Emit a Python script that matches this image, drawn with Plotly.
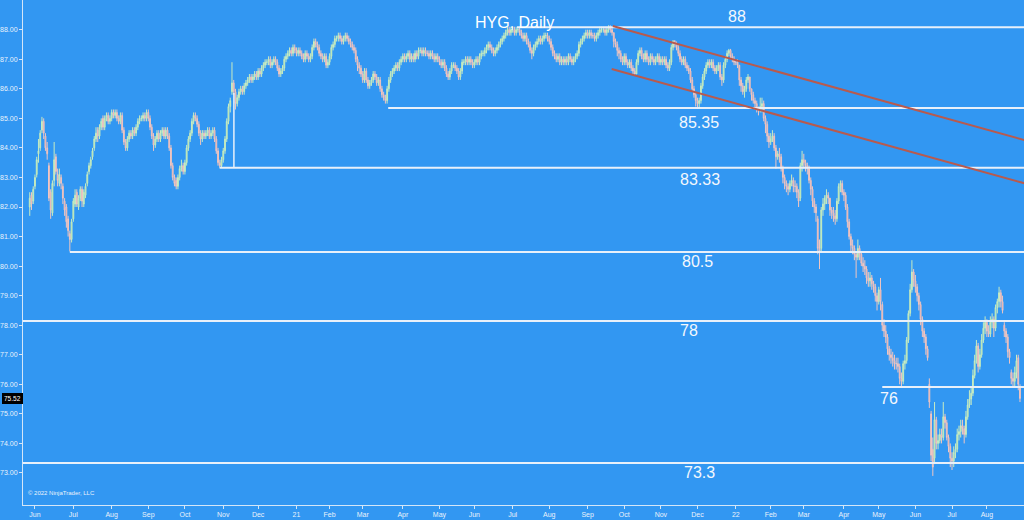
import pandas as pd
import plotly.graph_objects as go

# ---------------- data ----------------
start_date = "2020-05-27"
holidays = ["2020-07-03", "2020-09-07", "2020-11-26", "2020-12-25", "2021-01-01",
            "2021-01-18", "2021-02-15", "2021-04-02", "2021-05-31", "2021-07-05",
            "2021-09-06", "2021-11-25", "2021-12-24", "2022-01-17", "2022-02-21",
            "2022-04-15", "2022-05-30", "2022-06-20", "2022-07-04"]

opens = [
    82.0, 82.4, 82.2, 82.7, 83.1, 83.8, 84.0, 84.6, 84.9, 84.4,
    84.0, 83.4, 82.5, 81.8, 82.9, 83.7, 83.1, 82.8, 83.0, 82.7,
    82.2, 82.0, 81.6, 81.1, 80.9, 81.6, 82.1, 82.5, 82.0, 82.3,
    82.6, 82.1, 82.4, 82.8, 83.2, 83.4, 83.7, 84.0, 84.3, 84.6,
    84.4, 84.7, 85.0, 84.7, 85.0, 85.1, 84.9, 85.0, 85.2, 85.1,
    85.2, 85.0, 84.9, 85.1, 84.6, 84.2, 84.0, 84.3, 84.5, 84.4,
    84.6, 84.5, 84.7, 84.9, 85.0, 85.0, 85.1, 85.0, 85.2, 85.0,
    84.7, 84.4, 84.1, 84.3, 84.5, 84.3, 84.5, 84.6, 84.4, 84.6,
    84.4, 84.0, 83.4, 83.0, 82.9, 82.7, 83.0, 83.3, 83.4, 83.2,
    83.5, 84.0, 84.3, 84.5, 84.9, 85.1, 85.0, 84.8, 84.5, 84.3,
    84.5, 84.4, 84.5, 84.6, 84.4, 84.5, 84.6, 84.3, 83.9, 83.5,
    83.4, 83.6, 83.9, 84.3, 84.9, 85.4, 85.9, 86.2, 85.9, 85.5,
    85.7, 85.9, 86.0, 85.9, 86.1, 86.2, 86.3, 86.4, 86.3, 86.4,
    86.5, 86.4, 86.6, 86.5, 86.7, 86.8, 86.9, 86.9, 87.0, 86.8,
    86.9, 87.0, 86.9, 86.7, 86.5, 86.6, 86.7, 87.0, 87.1, 87.2,
    87.3, 87.2, 87.4, 87.3, 87.2, 87.3, 87.2, 87.1, 87.0, 87.2,
    87.1, 87.0, 87.1, 87.4, 87.6, 87.5, 87.4, 87.2, 87.1, 87.0,
    87.1, 86.8, 86.9, 87.1, 87.4, 87.5, 87.7, 87.7, 87.8, 87.7,
    87.6, 87.7, 87.8, 87.7, 87.6, 87.5, 87.4, 87.3, 87.0, 86.8,
    86.7, 86.5, 86.3, 86.6, 86.3, 86.1, 86.2, 86.3, 86.5, 86.4,
    86.2, 86.3, 86.0, 85.8, 85.7, 85.6, 86.0, 86.3, 86.5, 86.6,
    86.7, 86.8, 86.7, 86.9, 87.0, 87.1, 87.0, 87.1, 87.2, 87.0,
    87.1, 87.0, 87.2, 87.1, 87.3, 87.3, 87.2, 87.3, 87.2, 87.2,
    87.1, 87.2, 87.1, 87.0, 87.1, 87.0, 86.9, 86.8, 86.9, 86.7,
    86.5, 86.4, 86.6, 86.8, 86.8, 86.7, 86.6, 86.4, 86.6, 86.9,
    86.9, 87.0, 86.9, 87.0, 86.9, 86.8, 86.9, 87.0, 86.9, 87.1,
    87.2, 87.2, 87.3, 87.4, 87.5, 87.4, 87.3, 87.2, 87.3, 87.4,
    87.5, 87.6, 87.7, 87.8, 87.9, 88.0, 87.9, 88.0, 88.0, 87.9,
    88.0, 88.0, 87.9, 87.8, 87.7, 87.8, 87.6, 87.5, 87.3, 87.2,
    87.4, 87.5, 87.6, 87.7, 87.6, 87.7, 87.8, 87.8, 87.7, 87.6,
    87.4, 87.2, 87.1, 87.0, 87.1, 86.9, 87.0, 86.9, 87.0, 86.9,
    87.1, 87.0, 86.9, 87.0, 87.1, 87.2, 87.5, 87.6, 87.7, 87.8,
    87.9, 87.8, 87.9, 87.8, 87.8, 87.7, 87.8, 87.9, 88.0, 88.0,
    88.0, 87.9, 88.0, 88.1, 88.0, 87.9, 87.6, 87.5, 87.3, 87.2,
    87.0, 86.9, 87.1, 86.9, 86.8, 86.9, 86.7, 86.6, 86.5, 86.9,
    87.2, 87.3, 87.1, 87.0, 87.2, 87.0, 86.9, 87.1, 87.0, 86.9,
    87.0, 87.1, 86.9, 87.0, 86.9, 87.0, 86.8, 86.7, 86.9, 87.4,
    87.6, 87.5, 87.4, 87.2, 87.0, 86.9, 87.0, 86.8, 86.7, 86.6,
    86.3, 86.0, 85.8, 85.6, 85.5, 85.6, 86.1, 86.4, 86.6, 86.8,
    86.9, 86.8, 86.9, 86.7, 86.6, 86.7, 86.8, 86.4, 86.3, 86.8,
    87.0, 87.2, 87.3, 87.1, 87.0, 86.9, 86.9, 86.8, 86.3, 86.1,
    85.9, 86.0, 86.3, 86.4, 86.0, 85.8, 85.6, 85.5, 85.3, 85.3,
    85.4, 85.5, 85.0, 84.8, 84.4, 84.2, 84.3, 84.4, 84.0, 83.7,
    83.8, 83.7, 83.3, 83.0, 82.8, 82.7, 82.6, 82.8, 82.9, 82.7,
    82.7, 82.5, 82.3, 83.4, 83.6, 83.5, 83.4, 83.3, 82.9, 82.6,
    82.2, 82.0, 81.6, 80.6, 80.6, 81.9, 82.1, 82.3, 82.4, 82.3,
    81.9, 81.8, 81.7, 81.6, 82.2, 82.7, 82.8, 82.5, 82.4, 82.0,
    81.5, 81.0, 80.7, 80.6, 80.4, 80.3, 80.6, 80.4, 80.1, 80.0,
    79.9, 79.6, 79.5, 79.6, 79.4, 79.3, 79.0, 78.8, 79.2, 78.7,
    78.0, 77.8, 77.6, 77.2, 77.0, 76.9, 76.8, 76.7, 76.7, 76.6,
    76.2, 76.1, 76.7, 76.8, 77.5, 78.4, 79.2, 79.8, 79.5, 79.3,
    79.0, 78.7, 78.2, 77.8, 77.6, 77.2, 76.0, 75.0, 73.8, 73.5,
    74.8, 74.0, 74.1, 74.3, 74.2, 74.9, 74.7, 74.2, 73.9, 73.5,
    73.4, 73.7, 73.8, 74.3, 74.4, 74.6, 74.5, 74.3, 74.9, 75.3,
    75.5, 75.7, 76.3, 76.8, 77.3, 76.6, 77.0, 77.5, 77.9, 78.1,
    77.8, 77.7, 78.1, 78.2, 77.9, 78.6, 78.8, 79.1, 78.8, 78.0,
    77.8, 77.6, 77.1, 76.4, 76.2, 76.1, 76.4, 76.9, 75.9,
]

highs = [
    82.5, 82.5, 82.7, 83.1, 83.7, 84.3, 84.6, 85.05, 85.0, 84.5,
    84.2, 83.5, 82.6, 82.9, 84.2, 83.8, 83.3, 83.3, 83.1, 82.8,
    82.3, 82.1, 81.7, 81.2, 81.6, 82.3, 82.6, 82.6, 82.4, 82.7,
    82.7, 82.6, 82.8, 83.2, 83.5, 83.7, 84.0, 84.4, 84.7, 84.7,
    84.8, 85.0, 85.1, 85.1, 85.2, 85.2, 85.1, 85.3, 85.3, 85.3,
    85.3, 85.1, 85.2, 85.2, 84.7, 84.3, 84.4, 84.6, 84.6, 84.7,
    84.7, 84.8, 85.0, 85.1, 85.1, 85.2, 85.2, 85.3, 85.3, 85.1,
    84.8, 84.5, 84.4, 84.6, 84.6, 84.6, 84.7, 84.7, 84.7, 84.7,
    84.5, 84.1, 83.5, 83.1, 83.0, 83.1, 83.4, 83.6, 83.5, 83.6,
    84.1, 84.4, 84.6, 85.0, 85.2, 85.2, 85.1, 84.9, 84.6, 84.6,
    84.6, 84.6, 84.7, 84.7, 84.6, 84.7, 84.7, 84.4, 84.0, 83.6,
    83.7, 84.0, 84.4, 85.0, 85.5, 85.7, 86.9, 86.3, 86.0, 85.8,
    86.0, 86.1, 86.1, 86.2, 86.3, 86.4, 86.5, 86.5, 86.5, 86.6,
    86.6, 86.7, 86.7, 86.8, 86.9, 87.0, 87.0, 87.1, 87.1, 87.0,
    87.1, 87.1, 87.0, 86.8, 86.7, 86.8, 87.1, 87.2, 87.3, 87.4,
    87.4, 87.5, 87.5, 87.4, 87.4, 87.4, 87.3, 87.2, 87.3, 87.3,
    87.2, 87.2, 87.5, 87.7, 87.7, 87.6, 87.5, 87.3, 87.2, 87.2,
    87.2, 87.0, 87.2, 87.5, 87.6, 87.8, 87.8, 87.9, 87.9, 87.8,
    87.8, 87.9, 87.9, 87.8, 87.7, 87.6, 87.5, 87.4, 87.1, 86.9,
    86.8, 86.6, 86.7, 86.7, 86.4, 86.3, 86.4, 86.6, 86.6, 86.5,
    86.4, 86.4, 86.1, 85.9, 85.8, 86.1, 86.4, 86.6, 86.7, 86.8,
    86.9, 86.9, 87.0, 87.1, 87.2, 87.2, 87.2, 87.3, 87.3, 87.2,
    87.2, 87.3, 87.3, 87.4, 87.4, 87.4, 87.4, 87.4, 87.3, 87.3,
    87.3, 87.3, 87.2, 87.2, 87.2, 87.1, 87.0, 87.0, 87.0, 86.8,
    86.6, 86.7, 86.9, 86.9, 86.9, 86.8, 86.7, 86.7, 87.0, 87.0,
    87.1, 87.1, 87.1, 87.1, 87.0, 87.0, 87.1, 87.1, 87.2, 87.3,
    87.3, 87.4, 87.5, 87.6, 87.6, 87.5, 87.4, 87.4, 87.5, 87.6,
    87.7, 87.8, 87.9, 88.0, 88.1, 88.1, 88.1, 88.1, 88.1, 88.1,
    88.1, 88.1, 88.0, 87.9, 87.9, 87.9, 87.7, 87.6, 87.4, 87.5,
    87.6, 87.7, 87.8, 87.8, 87.8, 87.9, 87.9, 87.9, 87.8, 87.7,
    87.5, 87.3, 87.2, 87.2, 87.2, 87.1, 87.1, 87.1, 87.1, 87.2,
    87.2, 87.1, 87.1, 87.2, 87.3, 87.6, 87.7, 87.8, 87.9, 88.0,
    88.0, 88.0, 88.0, 87.9, 87.9, 87.9, 88.0, 88.1, 88.1, 88.1,
    88.1, 88.1, 88.15, 88.15, 88.1, 87.9, 87.7, 87.6, 87.4, 87.3,
    87.1, 87.2, 87.2, 87.0, 87.0, 87.0, 86.8, 86.7, 87.0, 87.3,
    87.4, 87.4, 87.2, 87.3, 87.3, 87.1, 87.2, 87.2, 87.1, 87.1,
    87.2, 87.2, 87.1, 87.1, 87.1, 87.1, 86.9, 87.0, 87.5, 87.65,
    87.65, 87.6, 87.5, 87.3, 87.1, 87.1, 87.1, 86.9, 86.8, 86.7,
    86.4, 86.1, 85.9, 85.7, 85.7, 86.2, 86.5, 86.7, 86.9, 87.0,
    87.0, 87.0, 87.0, 86.8, 86.8, 86.9, 86.9, 86.5, 86.9, 87.1,
    87.3, 87.35, 87.35, 87.2, 87.1, 87.0, 87.0, 86.8, 86.4, 86.2,
    86.1, 86.4, 86.5, 86.4, 86.0, 85.9, 85.7, 85.6, 85.4, 85.7,
    85.7, 85.6, 85.1, 84.9, 84.5, 84.5, 84.6, 84.5, 84.1, 83.9,
    84.0, 83.8, 83.4, 83.1, 82.9, 82.8, 82.9, 83.1, 83.0, 82.9,
    82.8, 82.6, 83.5, 83.9, 83.8, 83.6, 83.5, 83.4, 83.0, 82.7,
    82.3, 82.1, 81.7, 80.9, 82.0, 82.3, 82.4, 82.6, 82.5, 82.3,
    82.0, 82.0, 81.9, 82.3, 82.8, 82.9, 82.9, 82.6, 82.5, 82.1,
    81.6, 81.1, 80.9, 80.7, 80.5, 80.9, 80.7, 80.5, 80.3, 80.2,
    80.0, 79.8, 79.8, 79.7, 79.5, 79.4, 79.1, 79.3, 79.6, 78.8,
    78.2, 78.0, 77.7, 77.3, 77.2, 77.1, 77.0, 76.9, 76.9, 76.7,
    76.4, 76.8, 77.0, 77.6, 78.5, 79.4, 80.2, 79.9, 79.7, 79.4,
    79.1, 78.8, 78.3, 77.9, 77.7, 77.3, 76.2, 75.1, 74.2, 75.4,
    74.9, 74.3, 74.5, 74.5, 75.4, 75.0, 74.8, 74.3, 74.0, 73.7,
    73.9, 74.0, 74.5, 74.6, 74.8, 74.8, 74.6, 75.1, 75.5, 75.8,
    75.9, 76.5, 77.0, 77.5, 77.4, 77.2, 77.7, 78.1, 78.3, 78.2,
    78.0, 78.3, 78.4, 78.3, 78.7, 78.9, 79.3, 79.2, 79.0, 78.1,
    77.9, 77.7, 77.2, 76.5, 76.4, 76.6, 77.0, 77.0, 76.0,
]

lows = [
    81.7, 81.9, 82.1, 82.6, 83.0, 83.5, 83.9, 84.5, 84.3, 83.9,
    83.6, 82.2, 81.6, 81.7, 82.7, 83.1, 82.7, 82.7, 82.6, 82.1,
    81.7, 81.3, 81.0, 80.5, 80.8, 81.5, 82.0, 82.0, 81.9, 82.2,
    82.0, 82.0, 82.3, 82.7, 83.1, 83.3, 83.6, 83.9, 84.2, 84.2,
    84.3, 84.6, 84.6, 84.6, 84.9, 84.8, 84.8, 84.9, 85.0, 85.0,
    84.9, 84.8, 84.8, 84.5, 84.1, 83.9, 83.9, 84.2, 84.3, 84.3,
    84.4, 84.4, 84.6, 84.8, 84.9, 84.9, 84.9, 84.9, 84.9, 84.6,
    84.3, 83.9, 84.0, 84.2, 84.2, 84.2, 84.4, 84.3, 84.3, 84.3,
    83.9, 83.3, 82.9, 82.7, 82.6, 82.6, 82.9, 83.2, 83.1, 83.1,
    83.4, 83.9, 84.2, 84.4, 84.8, 84.9, 84.7, 84.4, 84.1, 84.2,
    84.3, 84.3, 84.4, 84.3, 84.3, 84.4, 84.2, 83.8, 83.4, 83.33,
    83.33, 83.5, 83.8, 84.2, 84.8, 85.2, 85.8, 85.8, 85.3, 85.4,
    85.6, 85.8, 85.8, 85.8, 86.0, 86.1, 86.2, 86.2, 86.2, 86.3,
    86.3, 86.3, 86.4, 86.4, 86.6, 86.7, 86.8, 86.8, 86.7, 86.7,
    86.8, 86.8, 86.6, 86.4, 86.4, 86.5, 86.6, 86.9, 87.0, 87.1,
    87.1, 87.1, 87.2, 87.1, 87.1, 87.1, 87.0, 86.9, 86.9, 87.0,
    86.9, 86.9, 87.0, 87.3, 87.4, 87.3, 87.1, 87.0, 86.9, 86.9,
    86.7, 86.7, 86.8, 87.0, 87.3, 87.4, 87.6, 87.6, 87.6, 87.5,
    87.5, 87.6, 87.6, 87.5, 87.4, 87.3, 87.2, 86.9, 86.6, 86.5,
    86.4, 86.2, 86.2, 86.2, 86.0, 86.0, 86.1, 86.2, 86.3, 86.1,
    86.1, 85.9, 85.7, 85.6, 85.5, 85.5, 85.9, 86.2, 86.4, 86.5,
    86.6, 86.6, 86.6, 86.8, 86.9, 86.9, 86.9, 87.0, 86.9, 86.9,
    86.9, 86.9, 87.0, 87.0, 87.2, 87.1, 87.1, 87.1, 87.1, 87.0,
    87.0, 87.0, 86.9, 86.9, 86.9, 86.8, 86.7, 86.7, 86.6, 86.4,
    86.3, 86.3, 86.5, 86.7, 86.6, 86.5, 86.3, 86.3, 86.5, 86.8,
    86.8, 86.8, 86.8, 86.8, 86.7, 86.7, 86.8, 86.8, 86.8, 87.0,
    87.1, 87.1, 87.2, 87.3, 87.3, 87.2, 87.1, 87.1, 87.2, 87.3,
    87.4, 87.5, 87.6, 87.7, 87.8, 87.8, 87.8, 87.9, 87.8, 87.8,
    87.9, 87.8, 87.7, 87.6, 87.6, 87.5, 87.4, 87.2, 87.0, 87.1,
    87.3, 87.4, 87.5, 87.5, 87.5, 87.6, 87.7, 87.6, 87.5, 87.3,
    87.1, 87.0, 86.9, 86.9, 86.8, 86.8, 86.8, 86.8, 86.8, 86.8,
    86.9, 86.8, 86.8, 86.9, 87.0, 87.1, 87.4, 87.5, 87.6, 87.7,
    87.7, 87.7, 87.7, 87.7, 87.6, 87.6, 87.7, 87.8, 87.9, 87.9,
    87.8, 87.8, 87.9, 87.9, 87.8, 87.4, 87.4, 87.1, 87.0, 86.9,
    86.8, 86.8, 86.8, 86.7, 86.7, 86.6, 86.5, 86.45, 86.5, 86.8,
    87.1, 87.0, 86.9, 86.9, 86.9, 86.8, 86.8, 86.9, 86.8, 86.8,
    86.9, 86.8, 86.8, 86.8, 86.8, 86.7, 86.6, 86.6, 86.8, 87.3,
    87.4, 87.3, 87.1, 86.9, 86.8, 86.8, 86.7, 86.6, 86.5, 86.2,
    85.9, 85.7, 85.4, 85.33, 85.35, 85.5, 86.0, 86.3, 86.5, 86.7,
    86.7, 86.7, 86.6, 86.5, 86.5, 86.6, 86.3, 86.1, 86.2, 86.7,
    86.9, 87.1, 87.0, 86.9, 86.8, 86.8, 86.7, 86.1, 85.9, 85.8,
    85.7, 85.9, 86.2, 85.9, 85.6, 85.5, 85.3, 85.2, 85.1, 85.2,
    85.2, 84.9, 84.5, 84.2, 84.0, 84.1, 84.2, 83.9, 83.3, 83.6,
    83.5, 83.2, 82.8, 82.6, 82.5, 82.4, 82.5, 82.7, 82.5, 82.5,
    82.3, 82.0, 82.2, 83.2, 83.3, 83.2, 83.1, 82.8, 82.4, 82.0,
    81.8, 81.5, 80.4, 79.9, 80.5, 81.7, 81.9, 82.1, 82.1, 81.7,
    81.6, 81.5, 81.4, 81.5, 82.1, 82.5, 82.4, 82.2, 81.9, 81.3,
    80.9, 80.5, 80.4, 80.2, 79.6, 80.2, 80.2, 80.0, 79.8, 79.7,
    79.4, 79.3, 79.3, 79.2, 79.1, 78.8, 78.5, 78.7, 78.5, 77.8,
    77.6, 77.4, 77.0, 76.8, 76.7, 76.6, 76.5, 76.5, 76.4, 76.0,
    75.9, 76.0, 76.5, 76.7, 77.4, 78.3, 79.1, 79.3, 79.1, 78.8,
    78.5, 78.0, 77.6, 77.4, 77.0, 76.8, 75.2, 73.4, 72.9, 73.3,
    73.8, 73.8, 74.0, 74.0, 74.1, 74.5, 74.1, 73.7, 73.2, 73.1,
    73.2, 73.5, 73.7, 74.1, 74.2, 74.3, 74.0, 74.2, 74.8, 75.2,
    75.3, 75.6, 76.2, 76.7, 76.4, 76.5, 76.9, 77.4, 77.7, 77.6,
    77.6, 77.6, 77.9, 77.6, 77.8, 78.4, 78.6, 78.6, 78.4, 77.6,
    77.4, 76.9, 76.7, 76.0, 75.9, 75.9, 76.2, 75.8, 75.4,
]

closes = [
    82.3, 82.1, 82.6, 83.0, 83.6, 83.9, 84.5, 84.9, 84.5, 84.0,
    83.8, 82.3, 81.9, 82.8, 83.6, 83.2, 82.9, 83.1, 82.8, 82.3,
    81.9, 81.5, 81.2, 80.9, 81.5, 82.2, 82.4, 82.1, 82.3, 82.6,
    82.2, 82.5, 82.7, 83.1, 83.4, 83.6, 83.9, 84.3, 84.5, 84.4,
    84.7, 84.9, 84.7, 85.0, 85.1, 84.9, 85.0, 85.2, 85.1, 85.2,
    85.0, 84.9, 85.1, 84.6, 84.2, 84.0, 84.3, 84.5, 84.4, 84.6,
    84.5, 84.7, 84.9, 85.0, 85.0, 85.1, 85.0, 85.2, 85.0, 84.7,
    84.4, 84.1, 84.3, 84.5, 84.3, 84.5, 84.6, 84.4, 84.6, 84.4,
    84.0, 83.4, 83.0, 82.8, 82.7, 83.0, 83.3, 83.4, 83.2, 83.5,
    84.0, 84.3, 84.5, 84.9, 85.1, 85.0, 84.8, 84.5, 84.3, 84.5,
    84.4, 84.5, 84.6, 84.4, 84.5, 84.6, 84.3, 83.9, 83.5, 83.4,
    83.6, 83.9, 84.3, 84.9, 85.4, 85.6, 86.2, 85.9, 85.5, 85.7,
    85.9, 86.0, 85.9, 86.1, 86.2, 86.3, 86.4, 86.3, 86.4, 86.5,
    86.4, 86.6, 86.5, 86.7, 86.8, 86.9, 86.9, 87.0, 86.8, 86.9,
    87.0, 86.9, 86.7, 86.5, 86.6, 86.7, 87.0, 87.1, 87.2, 87.3,
    87.2, 87.4, 87.3, 87.2, 87.3, 87.2, 87.1, 87.0, 87.2, 87.1,
    87.0, 87.1, 87.4, 87.6, 87.5, 87.4, 87.2, 87.1, 87.0, 87.1,
    86.8, 86.9, 87.1, 87.4, 87.5, 87.7, 87.7, 87.8, 87.7, 87.6,
    87.7, 87.8, 87.7, 87.6, 87.5, 87.4, 87.3, 87.0, 86.8, 86.7,
    86.5, 86.3, 86.6, 86.3, 86.1, 86.2, 86.3, 86.5, 86.4, 86.2,
    86.3, 86.0, 85.8, 85.7, 85.6, 86.0, 86.3, 86.5, 86.6, 86.7,
    86.8, 86.7, 86.9, 87.0, 87.1, 87.0, 87.1, 87.2, 87.0, 87.1,
    87.0, 87.2, 87.1, 87.3, 87.3, 87.2, 87.3, 87.2, 87.2, 87.1,
    87.2, 87.1, 87.0, 87.1, 87.0, 86.9, 86.8, 86.9, 86.7, 86.5,
    86.4, 86.6, 86.8, 86.8, 86.7, 86.6, 86.4, 86.6, 86.9, 86.9,
    87.0, 86.9, 87.0, 86.9, 86.8, 86.9, 87.0, 86.9, 87.1, 87.2,
    87.2, 87.3, 87.4, 87.5, 87.4, 87.3, 87.2, 87.3, 87.4, 87.5,
    87.6, 87.7, 87.8, 87.9, 88.0, 87.9, 88.0, 88.0, 87.9, 88.0,
    88.0, 87.9, 87.8, 87.7, 87.8, 87.6, 87.5, 87.3, 87.2, 87.4,
    87.5, 87.6, 87.7, 87.6, 87.7, 87.8, 87.8, 87.7, 87.6, 87.4,
    87.2, 87.1, 87.0, 87.1, 86.9, 87.0, 86.9, 87.0, 86.9, 87.1,
    87.0, 86.9, 87.0, 87.1, 87.2, 87.5, 87.6, 87.7, 87.8, 87.9,
    87.8, 87.9, 87.8, 87.8, 87.7, 87.8, 87.9, 88.0, 88.0, 88.0,
    87.9, 88.0, 88.1, 88.0, 87.9, 87.6, 87.5, 87.3, 87.2, 87.0,
    86.9, 87.1, 86.9, 86.8, 86.9, 86.7, 86.6, 86.5, 86.9, 87.2,
    87.3, 87.1, 87.0, 87.2, 87.0, 86.9, 87.1, 87.0, 86.9, 87.0,
    87.1, 86.9, 87.0, 86.9, 87.0, 86.8, 86.7, 86.9, 87.4, 87.6,
    87.5, 87.4, 87.2, 87.0, 86.9, 87.0, 86.8, 86.7, 86.6, 86.3,
    86.0, 85.8, 85.6, 85.5, 85.6, 86.1, 86.4, 86.6, 86.8, 86.9,
    86.8, 86.9, 86.7, 86.6, 86.7, 86.8, 86.4, 86.3, 86.8, 87.0,
    87.2, 87.3, 87.1, 87.0, 86.9, 86.9, 86.8, 86.3, 86.1, 85.9,
    86.0, 86.3, 86.4, 86.0, 85.8, 85.6, 85.5, 85.3, 85.3, 85.4,
    85.5, 85.0, 84.8, 84.4, 84.2, 84.3, 84.4, 84.0, 83.7, 83.8,
    83.7, 83.3, 83.0, 82.8, 82.7, 82.6, 82.8, 82.9, 82.7, 82.7,
    82.5, 82.2, 83.4, 83.6, 83.5, 83.4, 83.3, 82.9, 82.6, 82.2,
    82.0, 81.8, 80.6, 80.5, 81.9, 82.1, 82.3, 82.4, 82.3, 81.9,
    81.8, 81.7, 81.6, 82.2, 82.7, 82.8, 82.5, 82.4, 82.0, 81.5,
    81.0, 80.7, 80.6, 80.4, 80.3, 80.6, 80.4, 80.1, 80.0, 79.9,
    79.6, 79.5, 79.6, 79.4, 79.3, 79.0, 78.8, 79.2, 78.8, 78.0,
    77.8, 77.6, 77.2, 77.0, 76.9, 76.8, 76.7, 76.7, 76.6, 76.2,
    76.1, 76.7, 76.8, 77.5, 78.4, 79.2, 79.8, 79.5, 79.3, 79.0,
    78.7, 78.2, 77.8, 77.6, 77.2, 76.9, 75.4, 73.6, 73.2, 74.8,
    74.0, 74.1, 74.3, 74.2, 74.9, 74.7, 74.2, 73.9, 73.5, 73.4,
    73.7, 73.8, 74.3, 74.4, 74.6, 74.5, 74.3, 74.9, 75.3, 75.5,
    75.7, 76.3, 76.8, 77.3, 76.6, 77.0, 77.5, 77.9, 78.1, 77.8,
    77.7, 78.1, 78.2, 77.9, 78.6, 78.8, 79.1, 78.8, 78.5, 77.8,
    77.6, 77.1, 76.9, 76.2, 76.1, 76.4, 76.8, 76.0, 75.52,
]

last_price = 75.52

# horizontal support/resistance levels drawn on the chart
level_values = [88.08, 85.35, 83.33, 80.48, 78.14, 75.91, 73.34]
level_labels = ["88", "85.35", "83.33", "80.5", "78", "76", "73.3"]
level_start_bar = [279.5, 205.6, 108.9, 23.0, -6.0, 489.0, -6.0]

# downward channel lines (bar index, price)
channel_upper = [(334.4, 88.125), (572.0, 84.24)]
channel_lower = [(333.8, 86.67), (572.0, 82.78)]
# vertical drawn marker (bar, price_from, price_to)
vertical_marker = (117.1, 83.33, 85.86)

y_tick_values = list(range(73, 89))

# ---------------- figure ----------------
n = min(len(opens), len(highs), len(lows), len(closes))
cbd = pd.offsets.CustomBusinessDay(holidays=holidays)
dates = pd.date_range(start_date, periods=n, freq=cbd)
bars = list(range(n))

tickvals, ticktext = [], []
for i in range(1, n):
    if dates[i].month != dates[i - 1].month:
        tickvals.append(i)
        ticktext.append(dates[i].strftime("%y") if dates[i].month == 1 else dates[i].strftime("%b"))

BG = "#3297f2"
AXIS = "#d4e6f8"
TXT = "#eaf2fb"
LEVEL = "#e8f0fa"
CHANNEL = "#b85a4e"
FONT = "Liberation Sans, Arial, sans-serif"
X_RANGE = [-3.87, 570.3]

fig = go.Figure()

fig.add_trace(go.Candlestick(
    x=bars, open=opens[:n], high=highs[:n], low=lows[:n], close=closes[:n],
    increasing=dict(line=dict(color="#c8ecc2", width=1), fillcolor="#8cda82"),
    decreasing=dict(line=dict(color="#f0c6c2", width=1), fillcolor="#e2746c"),
    whiskerwidth=0, showlegend=False, hoverinfo="skip",
))

for val, start in zip(level_values, level_start_bar):
    fig.add_trace(go.Scatter(x=[start, X_RANGE[1] + 5], y=[val, val], mode="lines",
                             line=dict(color=LEVEL, width=2), showlegend=False, hoverinfo="skip"))

fig.add_trace(go.Scatter(x=[vertical_marker[0], vertical_marker[0]],
                         y=[vertical_marker[1], vertical_marker[2]], mode="lines",
                         line=dict(color=LEVEL, width=1.5), showlegend=False, hoverinfo="skip"))

for line in (channel_upper, channel_lower):
    fig.add_trace(go.Scatter(x=[p[0] for p in line], y=[p[1] for p in line], mode="lines",
                             line=dict(color=CHANNEL, width=2), showlegend=False, hoverinfo="skip"))

annotations = []
label_bar = [405.4, 383.6, 384.2, 383.0, 377.9, 493.0, 384.2]
label_shift = [11, -14, -12, -10, -9, -12, -10]
for val, lab, bx, sh in zip(level_values, level_labels, label_bar, label_shift):
    annotations.append(dict(x=bx, y=val, xref="x", yref="y", text=lab, showarrow=False,
                            yshift=sh, font=dict(family=FONT, size=16, color="#f4f8fd")))

annotations.append(dict(x=0.4910, y=0.976, xref="paper", yref="paper", text="HYG, Daily",
                        showarrow=False, font=dict(family=FONT, size=16, color="#ffffff")))
annotations.append(dict(x=0.003, y=0.014, xref="paper", yref="paper",
                        text="© 2022 NinjaTrader, LLC", showarrow=False, xanchor="left",
                        font=dict(family=FONT, size=6, color=TXT)))
annotations.append(dict(x=0, y=last_price, xref="paper", yref="y", text=f"{last_price:.2f}",
                        showarrow=False, xanchor="right", bgcolor="#000000",
                        bordercolor="#000000", borderpad=1,
                        font=dict(family=FONT, size=6.5, color="#ffffff")))

fig.update_layout(
    width=1024, height=520,
    margin=dict(l=21, r=0, t=0, b=15),
    paper_bgcolor=BG, plot_bgcolor=BG,
    font=dict(family=FONT, color=TXT),
    annotations=annotations,
    xaxis=dict(range=X_RANGE, tickmode="array", tickvals=tickvals, ticktext=ticktext,
               showgrid=False, zeroline=False, showline=True, linecolor=AXIS, linewidth=1,
               ticks="outside", ticklen=3, tickcolor=AXIS,
               tickfont=dict(family=FONT, size=7, color=TXT),
               rangeslider=dict(visible=False), fixedrange=True),
    yaxis=dict(range=[71.916, 89.005], tickmode="array", tickvals=y_tick_values,
               ticktext=[f"{v:.2f}" for v in y_tick_values], side="left",
               showgrid=False, zeroline=False, showline=True, linecolor=AXIS, linewidth=1,
               ticks="outside", ticklen=3, tickcolor=AXIS,
               tickfont=dict(family=FONT, size=7, color=TXT), fixedrange=True),
)

fig.write_html("out.html", config={"displayModeBar": False},
               post_script="document.body.style.margin='0';document.body.style.overflow='hidden';")
